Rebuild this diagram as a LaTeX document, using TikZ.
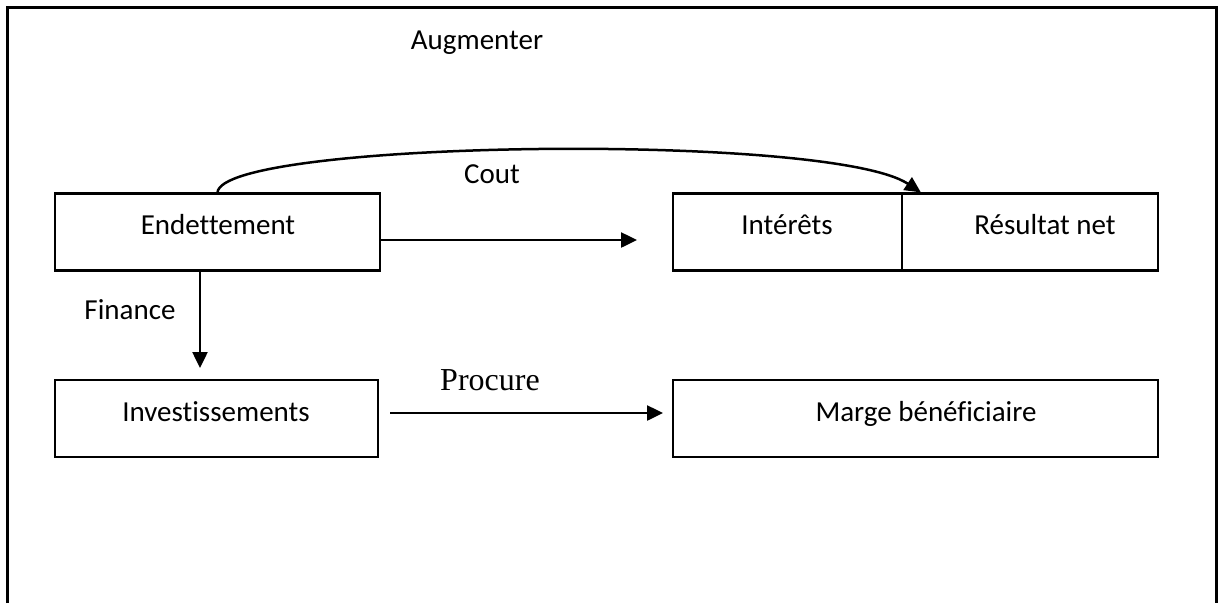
\documentclass[tikz,border=0pt]{standalone}
\usepackage{fontspec}
\setmainfont{Carlito}[Ligatures=NoCommon]
\newfontfamily\timesfont{Liberation Serif}
\usetikzlibrary{arrows.meta}
\begin{document}
\begin{tikzpicture}[x=1pt,y=-1pt,
  box/.style={draw=black, line width=2.2pt, rectangle, inner sep=0pt},
  lbl/.style={anchor=base, inner sep=0pt, font=\fontsize{29}{34}\selectfont},
  conn/.style={draw=black, line width=2.5pt, -{Triangle[length=16pt,width=15pt]}}]
  \useasboundingbox (0,0) rectangle (1223,603);
  % outer frame, open at the bottom
  \draw[line width=3pt] (7,603) -- (7,7) -- (1216,7) -- (1216,603);

  % boxes
  \node[box, minimum width=325pt, minimum height=77pt] (endet) at (217.5,232) {};
  \node[box, minimum width=229pt, minimum height=77pt] (inter) at (787.5,232) {};
  \node[box, minimum width=256pt, minimum height=77pt] (resul) at (1030,232) {};
  \node[box, minimum width=323pt, minimum height=77pt] (invest) at (216.5,418.5) {};
  \node[box, minimum width=485pt, minimum height=77pt] (marge) at (915.5,418.5) {};

  % box texts
  \node[lbl] at (218,234) {Endettement};
  \node[lbl] at (787,234) {Intérêts};
  \node[lbl] at (1045,234) {Résultat net};
  \node[lbl] at (216,421) {Investissements};
  \node[lbl] at (926,421) {Marge bénéficiaire};

  % free labels
  \node[lbl] (augm) at (477,49) {Augmenter};
  \node[lbl] (cout) at (492,183) {Cout};
  \node[lbl] (fin) at (130,319) {Finance};
  \node[anchor=base, inner sep=0pt, font=\timesfont\fontsize{32}{38}\selectfont] (proc) at (490,390) {Procure};

  % connectors
  \coordinate (c1) at (637,240);
  \coordinate (p0) at (390,413);
  \coordinate (p1) at (663,413);
  \draw[conn] (endet.east |- c1) -- (c1);
  \draw[conn] (endet.south -| 200,0) -- (200,368);
  \draw[conn] (p0) -- (p1);
  \draw[conn] (endet.north) .. controls (222,140) and (830,132) .. ([xshift=20pt]resul.north west);
\end{tikzpicture}
\end{document}
